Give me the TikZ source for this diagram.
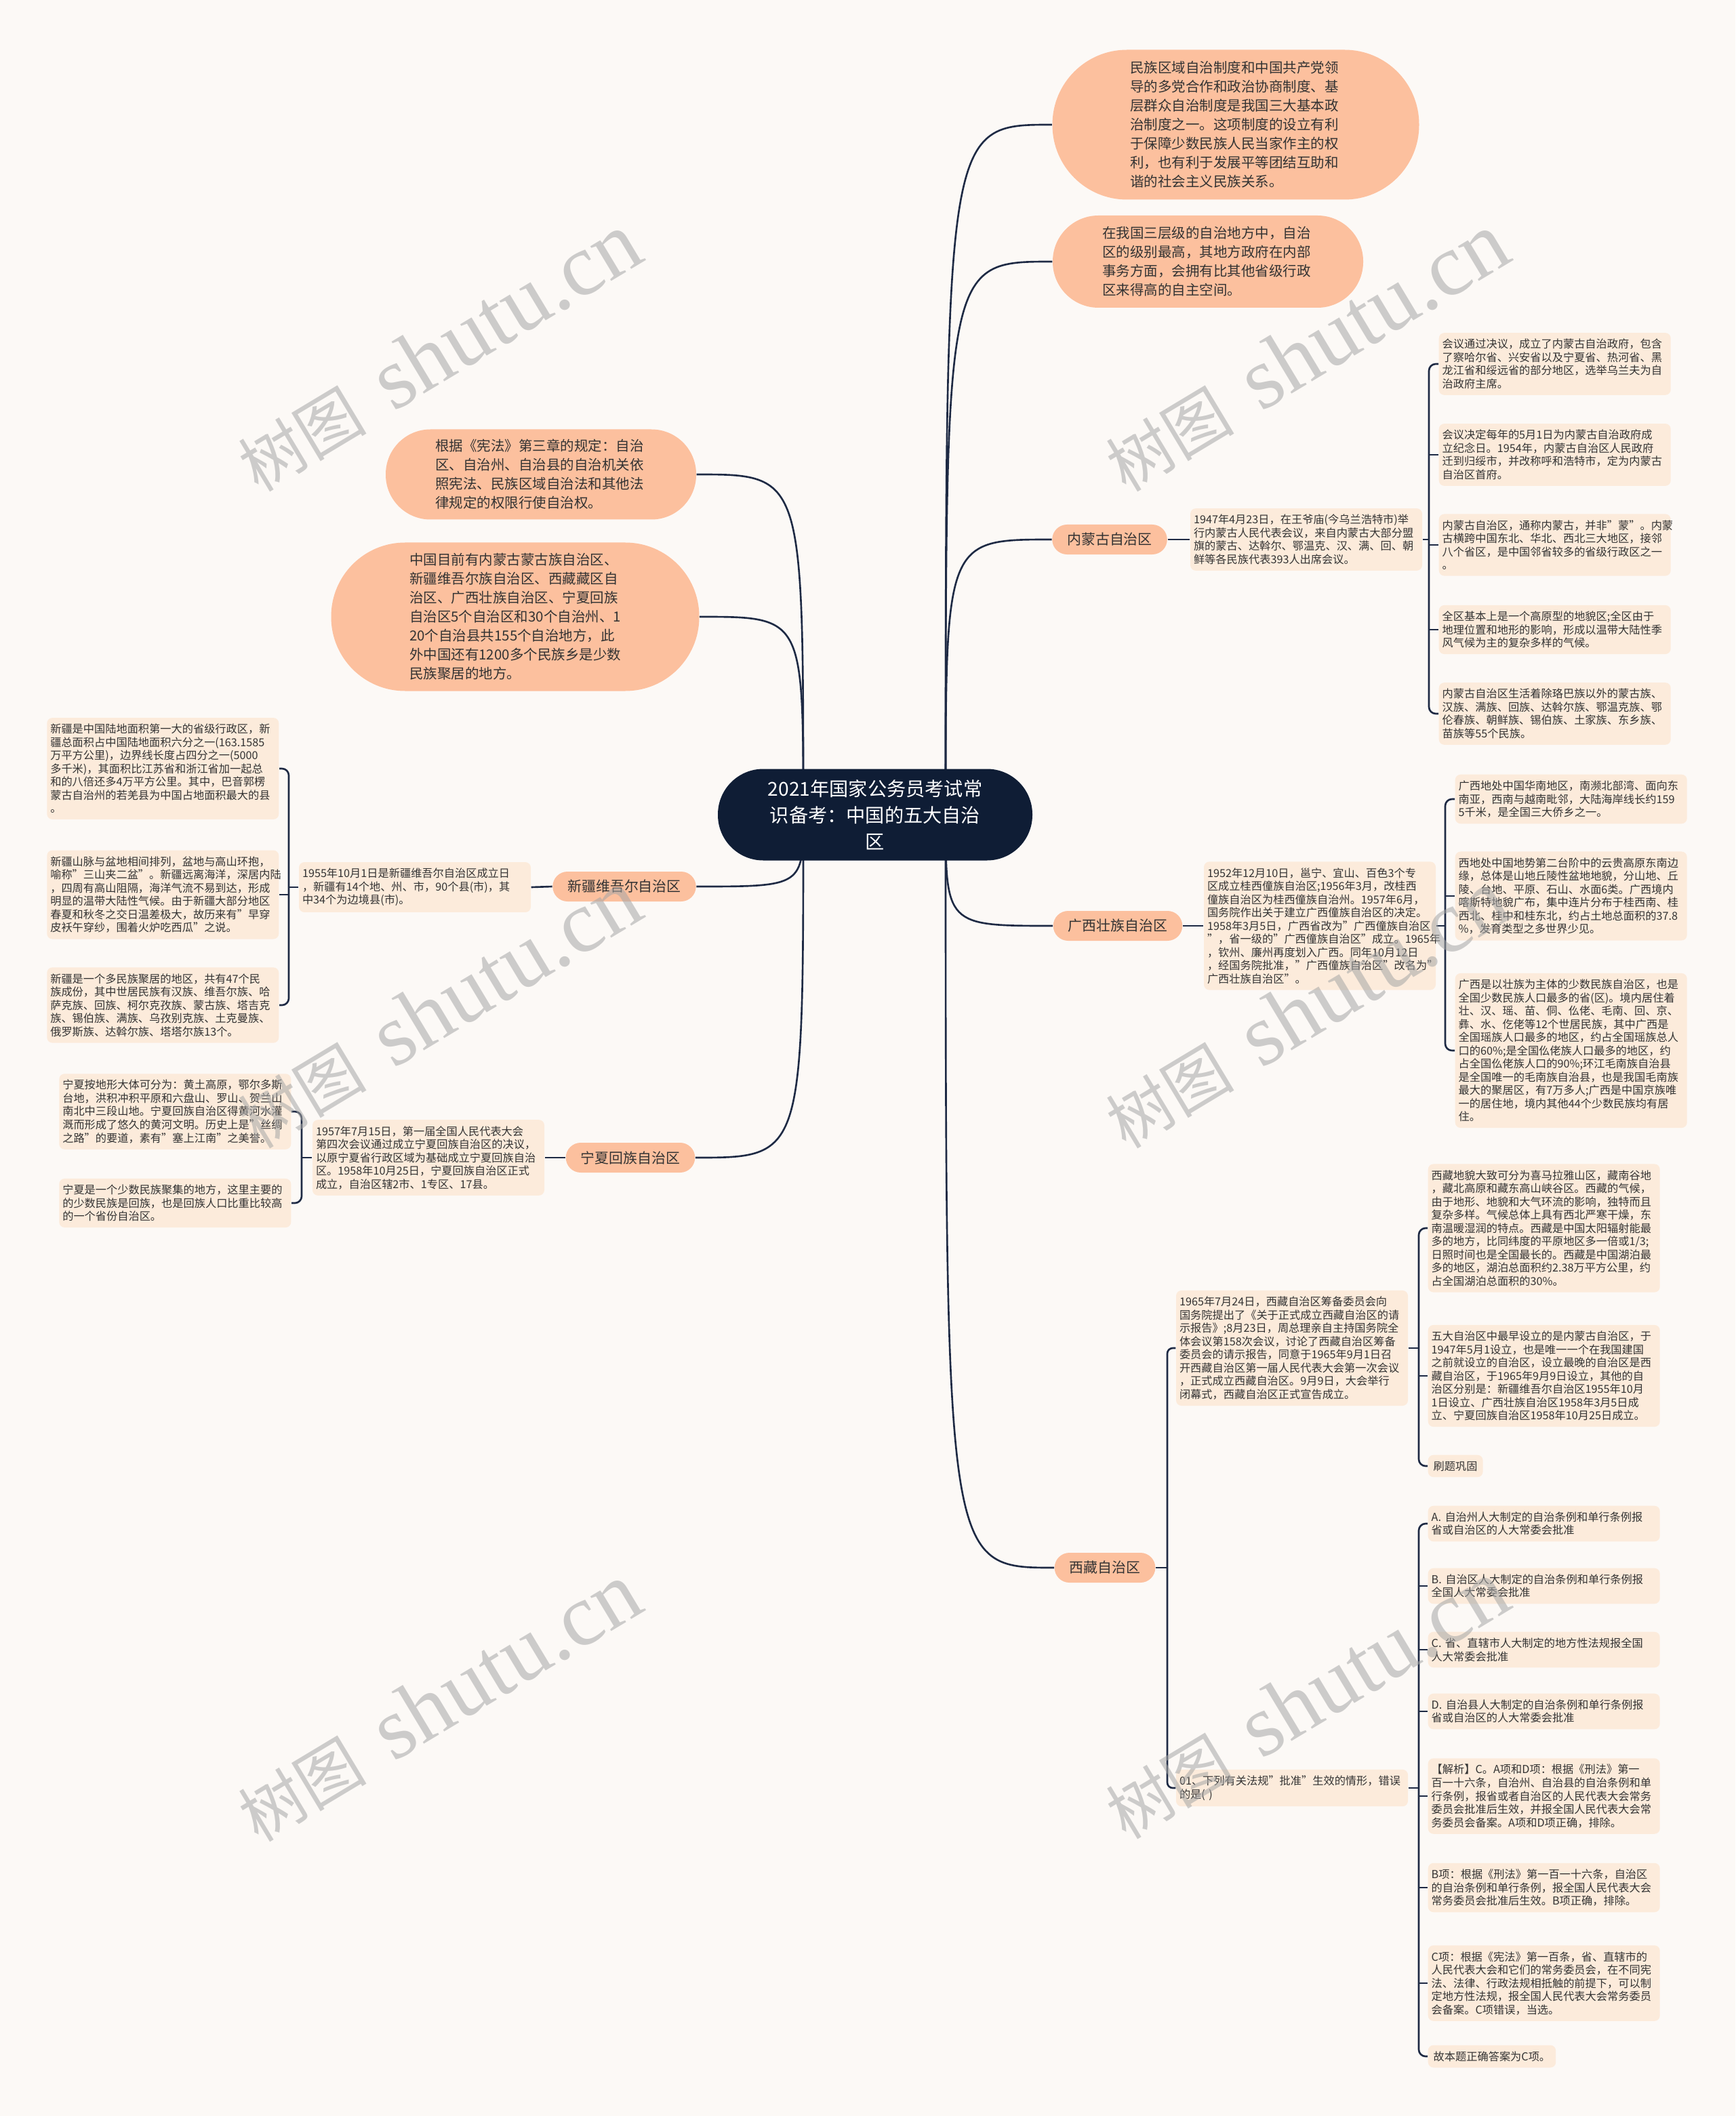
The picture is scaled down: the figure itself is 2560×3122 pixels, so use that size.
\documentclass[tikz,border=0pt]{standalone}
\usepackage{fontspec}
\setmainfont{Noto Sans CJK SC}
\newfontfamily\wmserif{Liberation Serif}
\usetikzlibrary{calc}
\definecolor{bgc}{HTML}{FCF9F6}
\definecolor{bubc}{HTML}{FCC09E}
\definecolor{leafc}{HTML}{FCEBDB}
\definecolor{navy}{HTML}{0F1D35}
\definecolor{linec}{HTML}{1E2A44}
\definecolor{txtc}{HTML}{333333}
\newdimen\pxu \pxu=0.01cm
\newcommand\leaffont{\fontsize{4.61pt}{5.55pt}\selectfont}
\newcommand\bubfont{\fontsize{5.83pt}{7.97pt}\selectfont}
\newcommand\labfont{\fontsize{5.95pt}{7pt}\selectfont}
\newcommand\cenfont{\fontsize{8.02pt}{11.04pt}\selectfont}
\newcommand\wmcjk{\fontsize{27pt}{30pt}\selectfont}
\newcommand\wmlat{\fontsize{37pt}{40pt}\selectfont\wmserif}
\tikzset{
  conn/.style={draw=linec, line width=0.75pt},
  leaf/.style={fill=leafc, rounded corners=8\pxu, inner xsep=5\pxu, inner ysep=9\pxu, text width=332\pxu, align=left, font=\leaffont, text=txtc},
  sleaf/.style={fill=leafc, rounded corners=8\pxu, inner xsep=8\pxu, inner ysep=9\pxu, align=left, font=\leaffont, text=txtc},
  bubble/.style={fill=bubc, text width=312\pxu, align=left, font=\bubfont, text=txtc},
  lab/.style={fill=bubc, rounded corners=21.9\pxu, minimum height=44\pxu, inner xsep=22\pxu, inner ysep=0pt, font=\labfont, text=txtc},
  wm/.style={rotate=31, text=gray!70, opacity=0.55, inner sep=0pt}
}
\begin{document}
\begin{tikzpicture}[x=0.01cm, y=-0.01cm]
\useasboundingbox (0,0) rectangle (2560,3122);
\fill[bgc] (0,0) rectangle (2560,3122);

% ---------- bubbles ----------
\node[bubble, minimum width=541\pxu, minimum height=221\pxu, rounded corners=110\pxu] (b1) at (1823,184) {民族区域自治制度和中国共产党领\\导的多党合作和政治协商制度、基\\层群众自治制度是我国三大基本政\\治制度之一。这项制度的设立有利\\于保障少数民族人民当家作主的权\\利，也有利于发展平等团结互助和\\谐的社会主义民族关系。};
\node[bubble, minimum width=458\pxu, minimum height=136\pxu, rounded corners=67.5\pxu] (b2) at (1782,386) {在我国三层级的自治地方中，自治\\区的级别最高，其地方政府在内部\\事务方面，会拥有比其他省级行政\\区来得高的自主空间。};
\node[bubble, minimum width=458\pxu, minimum height=133\pxu, rounded corners=66\pxu] (b3) at (798,700) {根据《宪法》第三章的规定：自治\\区、自治州、自治县的自治机关依\\照宪法、民族区域自治法和其他法\\律规定的权限行使自治权。};
\node[bubble, minimum width=543\pxu, minimum height=219\pxu, rounded corners=109\pxu] (b4) at (760,910) {中国目前有内蒙古蒙古族自治区、\\新疆维吾尔族自治区、西藏藏区自\\治区、广西壮族自治区、宁夏回族\\自治区5个自治区和30个自治州、1\\20个自治县共155个自治地方，此\\外中国还有1200多个民族乡是少数\\民族聚居的地方。};

% ---------- branch labels ----------
\node[lab] (imlab) at (1637,796) {内蒙古自治区};
\node[lab] (gxlab) at (1649,1366) {广西壮族自治区};
\node[lab] (tblab) at (1630,2313) {西藏自治区};
\node[lab] (xjlab) at (921,1308) {新疆维吾尔自治区};
\node[lab] (nxlab) at (930,1708) {宁夏回族自治区};

% ---------- Inner Mongolia ----------
\node[leaf] (immid) at (1927,796) {1947年4月23日，在王爷庙(今乌兰浩特市)举\\行内蒙古人民代表会议，来自内蒙古大部分盟\\旗的蒙古、达斡尔、鄂温克、汉、满、回、朝\\鲜等各民族代表393人出席会议。};
\node[leaf, anchor=west] (imL1) at (2122,537) {会议通过决议，成立了内蒙古自治政府，包含\\了察哈尔省、兴安省以及宁夏省、热河省、黑\\龙江省和绥远省的部分地区，选举乌兰夫为自\\治政府主席。};
\node[leaf, anchor=west] (imL2) at (2122,671) {会议决定每年的5月1日为内蒙古自治政府成\\立纪念日。1954年，内蒙古自治区人民政府\\迁到归绥市，并改称呼和浩特市，定为内蒙古\\自治区首府。};
\node[leaf, anchor=west] (imL3) at (2122,804) {内蒙古自治区，通称内蒙古，并非"蒙"。内蒙\\古横跨中国东北、华北、西北三大地区，接邻\\八个省区，是中国邻省较多的省级行政区之一\\。};
\node[leaf, anchor=west] (imL4) at (2122,929) {全区基本上是一个高原型的地貌区;全区由于\\地理位置和地形的影响，形成以温带大陆性季\\风气候为主的复杂多样的气候。};
\node[leaf, anchor=west] (imL5) at (2122,1053) {内蒙古自治区生活着除珞巴族以外的蒙古族、\\汉族、满族、回族、达斡尔族、鄂温克族、鄂\\伦春族、朝鲜族、锡伯族、土家族、东乡族、\\苗族等55个民族。};
\coordinate (imbr) at (2108,796);
\draw[conn] (imlab.east) -- (immid.west);
\draw[conn] (immid.east) -- (imbr);
\draw[conn, rounded corners=10\pxu] (imL1.west) -| (imbr) |- (imL5.west);
\draw[conn] (imbr |- imL2.west) -- (imL2.west);
\draw[conn] (imbr |- imL3.west) -- (imL3.west);
\draw[conn] (imbr |- imL4.west) -- (imL4.west);

% ---------- Guangxi ----------
\node[leaf] (gxmid) at (1947,1366) {1952年12月10日，邕宁、宜山、百色3个专\\区成立桂西僮族自治区;1956年3月，改桂西\\僮族自治区为桂西僮族自治州。1957年6月，\\国务院作出关于建立广西僮族自治区的决定。\\1958年3月5日，广西省改为"广西僮族自治区\\"，省一级的"广西僮族自治区"成立。1965年\\，钦州、廉州再度划入广西。同年10月12日\\，经国务院批准，"广西僮族自治区"改名为"\\广西壮族自治区"。};
\node[leaf, anchor=west] (gxL1) at (2146,1179) {广西地处中国华南地区，南濒北部湾、面向东\\南亚，西南与越南毗邻，大陆海岸线长约159\\5千米，是全国三大侨乡之一。};
\node[leaf, anchor=west] (gxL2) at (2146,1322) {西地处中国地势第二台阶中的云贵高原东南边\\缘，总体是山地丘陵性盆地地貌，分山地、丘\\陵、台地、平原、石山、水面6类。广西境内\\喀斯特地貌广布，集中连片分布于桂西南、桂\\西北、桂中和桂东北，约占土地总面积的37.8\\\%，发育类型之多世界少见。};
\node[leaf, anchor=west] (gxL3) at (2146,1550) {广西是以壮族为主体的少数民族自治区，也是\\全国少数民族人口最多的省(区)。境内居住着\\壮、汉、瑶、苗、侗、仫佬、毛南、回、京、\\彝、水、仡佬等12个世居民族，其中广西是\\全国瑶族人口最多的地区，约占全国瑶族总人\\口的60\%;是全国仫佬族人口最多的地区，约\\占全国仫佬族人口的90\%;环江毛南族自治县\\是全国唯一的毛南族自治县，也是我国毛南族\\最大的聚居区，有7万多人;广西是中国京族唯\\一的居住地，境内其他44个少数民族均有居\\住。};
\coordinate (gxbr) at (2132,1366);
\draw[conn] (gxlab.east) -- (gxmid.west);
\draw[conn] (gxmid.east) -- (gxbr);
\draw[conn, rounded corners=10\pxu] (gxL1.west) -| (gxbr) |- (gxL3.west);
\draw[conn] (gxbr |- gxL2.west) -- (gxL2.west);

% ---------- Xinjiang ----------
\node[leaf] (xjmid) at (612,1309) {1955年10月1日是新疆维吾尔自治区成立日\\，新疆有14个地、州、市，90个县(市)，其\\中34个为边境县(市)。};
\node[leaf, anchor=east] (xjL1) at (412,1134) {新疆是中国陆地面积第一大的省级行政区，新\\疆总面积占中国陆地面积六分之一(163.1585\\万平方公里)，边界线长度占四分之一(5000\\多千米)，其面积比江苏省和浙江省加一起总\\和的八倍还多4万平方公里。其中，巴音郭楞\\蒙古自治州的若羌县为中国占地面积最大的县\\。};
\node[leaf, anchor=east] (xjL2) at (412,1320) {新疆山脉与盆地相间排列，盆地与高山环抱，\\喻称"三山夹二盆"。新疆远离海洋，深居内陆\\，四周有高山阻隔，海洋气流不易到达，形成\\明显的温带大陆性气候。由于新疆大部分地区\\春夏和秋冬之交日温差极大，故历来有"早穿\\皮袄午穿纱，围着火炉吃西瓜"之说。};
\node[leaf, anchor=east] (xjL3) at (412,1483) {新疆是一个多民族聚居的地区，共有47个民\\族成份，其中世居民族有汉族、维吾尔族、哈\\萨克族、回族、柯尔克孜族、蒙古族、塔吉克\\族、锡伯族、满族、乌孜别克族、土克曼族、\\俄罗斯族、达斡尔族、塔塔尔族13个。};
\coordinate (xjbr) at (426,1309);
\draw[conn] (xjlab.west) -- (xjmid.east);
\draw[conn] (xjmid.west) -- (xjbr);
\draw[conn, rounded corners=10\pxu] (xjL1.east) -| (xjbr) |- (xjL3.east);
\draw[conn] (xjbr |- xjL2.east) -- (xjL2.east);

% ---------- Ningxia ----------
\node[leaf] (nxmid) at (632,1708) {1957年7月15日，第一届全国人民代表大会\\第四次会议通过成立宁夏回族自治区的决议，\\以原宁夏省行政区域为基础成立宁夏回族自治\\区。1958年10月25日，宁夏回族自治区正式\\成立，自治区辖2市、1专区、17县。};
\node[leaf, anchor=east] (nxL1) at (430,1640) {宁夏按地形大体可分为：黄土高原，鄂尔多斯\\台地，洪积冲积平原和六盘山、罗山、贺兰山\\南北中三段山地。宁夏回族自治区得黄河水灌\\溉而形成了悠久的黄河文明。历史上是"丝绸\\之路"的要道，素有"塞上江南"之美誉。};
\node[leaf, anchor=east] (nxL2) at (430,1775) {宁夏是一个少数民族聚集的地方，这里主要的\\的少数民族是回族，也是回族人口比重比较高\\的一个省份自治区。};
\coordinate (nxbr) at (445,1708);
\draw[conn] (nxlab.west) -- (nxmid.east);
\draw[conn] (nxmid.west) -- (nxbr);
\draw[conn, rounded corners=10\pxu] (nxL1.east) -| (nxbr) |- (nxL2.east);

% ---------- Tibet ----------
\node[leaf] (tbmid) at (1906,1989) {1965年7月24日，西藏自治区筹备委员会向\\国务院提出了《关于正式成立西藏自治区的请\\示报告》;8月23日，周总理亲自主持国务院全\\体会议第158次会议，讨论了西藏自治区筹备\\委员会的请示报告，同意于1965年9月1日召\\开西藏自治区第一届人民代表大会第一次会议\\，正式成立西藏自治区。9月9日，大会举行\\闭幕式，西藏自治区正式宣告成立。};
\node[leaf] (tbq) at (1906,2638) {01、下列有关法规"批准"生效的情形，错误\\的是( )};
\coordinate (tbr) at (1722,2313);
\draw[conn] (tblab.east) -- (tbr);
\draw[conn, rounded corners=8\pxu] (tbmid.west) -| (tbr) |- (tbq.west);

\node[leaf, anchor=west] (tbT1) at (2106,1812) {西藏地貌大致可分为喜马拉雅山区，藏南谷地\\，藏北高原和藏东高山峡谷区。西藏的气候，\\由于地形、地貌和大气环流的影响，独特而且\\复杂多样。气候总体上具有西北严寒干燥，东\\南温暖湿润的特点。西藏是中国太阳辐射能最\\多的地方，比同纬度的平原地区多一倍或1/3;\\日照时间也是全国最长的。西藏是中国湖泊最\\多的地区，湖泊总面积约2.38万平方公里，约\\占全国湖泊总面积的30\%。};
\node[leaf, anchor=west] (tbT2) at (2106,2030) {五大自治区中最早设立的是内蒙古自治区，于\\1947年5月1设立，也是唯一一个在我国建国\\之前就设立的自治区，设立最晚的自治区是西\\藏自治区，于1965年9月9日设立，其他的自\\治区分别是：新疆维吾尔自治区1955年10月\\1日设立、广西壮族自治区1958年3月5日成\\立、宁夏回族自治区1958年10月25日成立。};
\node[sleaf, anchor=west] (tbT3) at (2106,2163) {刷题巩固};
\coordinate (tlbr) at (2093,1989);
\draw[conn] (tbmid.east) -- (tlbr);
\draw[conn, rounded corners=10\pxu] (tbT1.west) -| (tlbr) |- (tbT3.west);
\draw[conn] (tlbr |- tbT2.west) -- (tbT2.west);

\node[leaf, anchor=west] (qA) at (2106,2248) {A. 自治州人大制定的自治条例和单行条例报\\省或自治区的人大常委会批准};
\node[leaf, anchor=west] (qB) at (2106,2340) {B. 自治区人大制定的自治条例和单行条例报\\全国人大常委会批准};
\node[leaf, anchor=west] (qC) at (2106,2434) {C. 省、直辖市人大制定的地方性法规报全国\\人大常委会批准};
\node[leaf, anchor=west] (qD) at (2106,2525) {D. 自治县人大制定的自治条例和单行条例报\\省或自治区的人大常委会批准};
\node[leaf, anchor=west] (qE) at (2106,2650) {【解析】C。A项和D项：根据《刑法》第一\\百一十六条，自治州、自治县的自治条例和单\\行条例，报省或者自治区的人民代表大会常务\\委员会批准后生效，并报全国人民代表大会常\\务委员会备案。A项和D项正确，排除。};
\node[leaf, anchor=west] (qF) at (2106,2785) {B项：根据《刑法》第一百一十六条，自治区\\的自治条例和单行条例，报全国人民代表大会\\常务委员会批准后生效。B项正确，排除。};
\node[leaf, anchor=west] (qG) at (2106,2926) {C项：根据《宪法》第一百条，省、直辖市的\\人民代表大会和它们的常务委员会，在不同宪\\法、法律、行政法规相抵触的前提下，可以制\\定地方性法规，报全国人民代表大会常务委员\\会备案。C项错误，当选。};
\node[sleaf, anchor=west] (qH) at (2106,3034) {故本题正确答案为C项。};
\coordinate (qbr) at (2093,2638);
\draw[conn] (tbq.east) -- (qbr);
\draw[conn, rounded corners=10\pxu] (qA.west) -| (qbr) |- (qH.west);
\foreach \q in {qB,qC,qD,qE,qF,qG} \draw[conn] (qbr |- \q.west) -- (\q.west);

% ---------- main curves ----------
\coordinate (sR) at (1395,1202);
\coordinate (sL) at (1185,1202);
\foreach \t in {b1,b2,imlab,gxlab,tblab}
  \draw[conn] (sR) .. controls (sR |- \t.west) .. (\t.west);
\foreach \t in {b3,b4,xjlab,nxlab}
  \draw[conn] (sL) .. controls (sL |- \t.east) .. (\t.east);

% ---------- center ----------
\node[fill=navy, text=white, rounded corners=67\pxu, minimum width=464\pxu, minimum height=135\pxu, align=center, font=\cenfont] (cen) at (1291,1202) {2021年国家公务员考试常\\识备考：中国的五大自治\\区};

% ---------- watermarks ----------
\foreach \p/\n in {{(647,520)}/w1,{(1927,520)}/w2,{(647,1489)}/w3,{(1927,1489)}/w4,{(647,2512)}/w5,{(1927,2508)}/w6}
  \node[wm] (\n) at \p {\wmcjk 树图\hspace{12pt}\wmlat shutu.cn};
\end{tikzpicture}
\end{document}
